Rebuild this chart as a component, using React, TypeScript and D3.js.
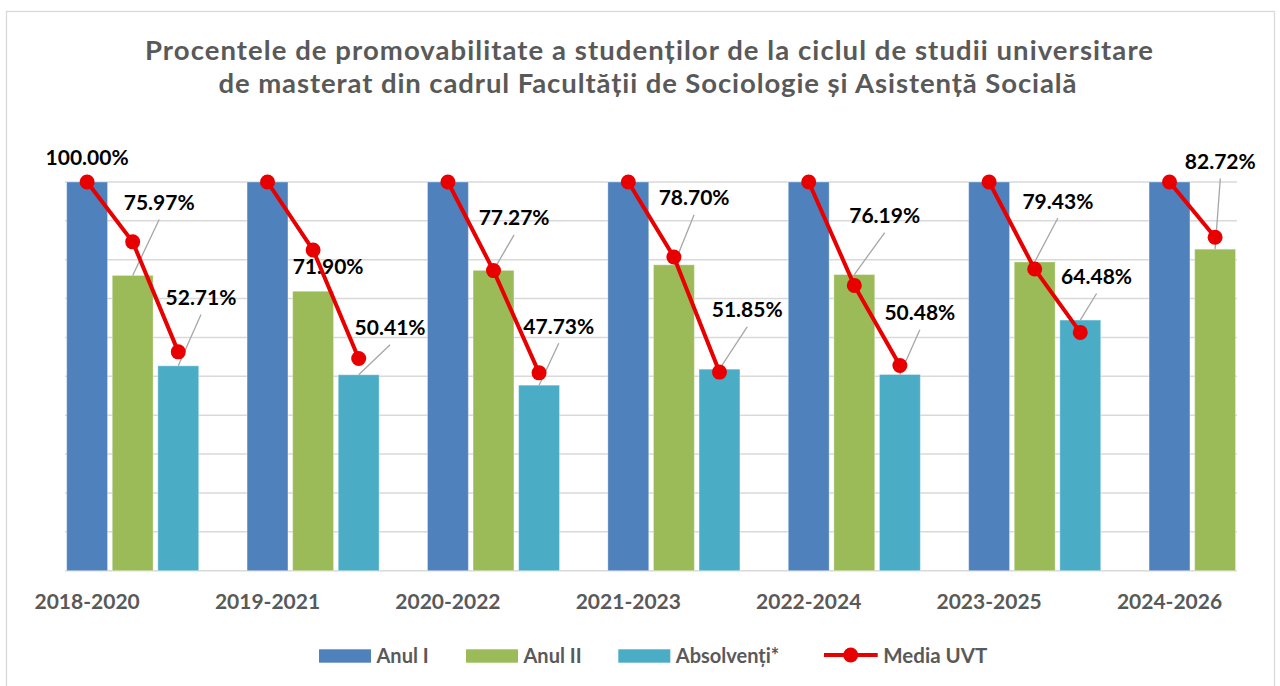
import React from 'react';
import * as d3 from 'd3';

const categories = ['2018-2020', '2019-2021', '2020-2022', '2021-2023', '2022-2024', '2023-2025', '2024-2026'];
const seriesNames = ['Anul I', 'Anul II', 'Absolvenți*'];
const anulI: (number | null)[] = [100, 100, 100, 100, 100, 100, 100];
const anulII: (number | null)[] = [75.97, 71.9, 77.27, 78.7, 76.19, 79.43, 82.72];
const absolventi: (number | null)[] = [52.71, 50.41, 47.73, 51.85, 50.48, 64.48, null];
const mediaAnulI: (number | null)[] = [100, 100, 100, 100, 100, 100, 100];
const mediaAnulII: (number | null)[] = [84.6, 82.5, 77.2, 80.7, 73.4, 77.6, 85.8];
const mediaAbsolventi: (number | null)[] = [56.3, 54.6, 50.9, 51.1, 52.8, 61.3, null];
const showLabelAnulI = [true, false, false, false, false, false, false];
const titleLines = [
  'Procentele de promovabilitate a studenților de la ciclul de studii universitare',
  'de masterat din cadrul Facultății de Sociologie și Asistență Socială',
];
const legendLine = 'Media UVT';

// layout: label centre offsets from bar top-centre
const labelOffsets: [number, number][][] = [
  [[0, -25], [0, -25], [0, -25], [0, -25], [0, -25], [0, -25], [0, -25]],
  [[26.5, -73], [15, -25], [20.6, -52.5], [20.2, -67], [30.4, -59], [23.2, -61], [5.2, -87.6]],
  [[22.7, -68.3], [31.4, -47], [19.7, -59], [27.7, -59.3], [20, -61.7], [16.3, -43.6], [0, -30]],
];
// layout: title line widths / centres
const titleLayout = [
  { cx: 649, w: 1008, y: 60 },
  { cx: 647.5, w: 858, y: 93.3 },
];

const W = 1280;
const H = 686;
const colors = ['#4f81bd', '#9bbb59', '#4bacc6'];
const red = '#e80000';
const gray = '#595959';
const FONT = 'Lato, "Open Sans", sans-serif';

export default function App() {
  const seriesVals = [anulI, anulII, absolventi];
  const mediaVals = [mediaAnulI, mediaAnulII, mediaAbsolventi];

  const plotLeft = 65;
  const plotRight = 1237;
  const y = d3.scaleLinear().domain([0, 100]).range([570.7, 182]);
  const x0 = d3.scaleBand().domain(categories).range([42.5, 1305.3]).paddingInner(0.268).paddingOuter(0.134);
  const x1 = d3.scaleBand().domain(seriesNames).range([0, x0.bandwidth()]).paddingInner(0.103);
  const bw = x1.bandwidth();
  const cx = (ci: number, si: number) => (x0(categories[ci]) as number) + (x1(seriesNames[si]) as number) + bw / 2;

  const lineGen = d3
    .line<[number, number]>()
    .x((d) => d[0])
    .y((d) => d[1]);

  const fs = 21;

  return (
    <svg width={W} height={H} style={{ position: 'absolute', left: 0, top: 0, background: '#fff' }} fontFamily={FONT}>
      <rect x={0} y={0} width={W} height={H} fill="#fff" />
      <rect x={6.5} y={11.5} width={1268} height={700} fill="none" stroke="#d9d9d9" strokeWidth={1.3} />

      {titleLines.map((t, i) => (
        <text
          key={i}
          x={titleLayout[i].cx}
          y={titleLayout[i].y}
          textAnchor="middle"
          fontSize={27.5}
          fontWeight={700}
          fill={gray}
          textLength={titleLayout[i].w}
          lengthAdjust="spacing"
        >
          {t}
        </text>
      ))}

      {y.ticks(10).map((t) => (
        <line key={t} x1={plotLeft} x2={plotRight} y1={y(t)} y2={y(t)} stroke="#d9d9d9" strokeWidth={1.5} />
      ))}

      {categories.map((c, ci) =>
        seriesVals.map((vals, si) => {
          const v = vals[ci];
          if (v == null) return null;
          return (
            <rect
              key={c + si}
              x={(x0(c) as number) + (x1(seriesNames[si]) as number)}
              y={y(v)}
              width={bw}
              height={y(0) - y(v)}
              fill={colors[si]}
              stroke="#ffffff"
              strokeOpacity={0.35}
              strokeWidth={1}
            />
          );
        })
      )}

      {categories.map((c, ci) =>
        seriesVals.map((vals, si) => {
          const v = vals[ci];
          if (v == null) return null;
          if (si === 0 && !showLabelAnulI[ci]) return null;
          const [dx, dy] = labelOffsets[si][ci];
          const bx = cx(ci, si);
          const by = y(v);
          const lx = bx + dx;
          const ly = by + dy;
          return (
            <g key={'l' + c + si}>
              {dy < -35 && (
                <line x1={lx} y1={ly + 17} x2={bx} y2={by} stroke="#a6a6a6" strokeWidth={1.3} />
              )}
              <text x={lx} y={ly + fs * 0.36} textAnchor="middle" fontSize={fs} fontWeight={700} fill="#000">
                {v.toFixed(2) + '%'}
              </text>
            </g>
          );
        })
      )}

      {categories.map((c, ci) => {
        const pts: [number, number][] = [];
        mediaVals.forEach((vals, si) => {
          const v = vals[ci];
          if (v != null) pts.push([cx(ci, si), y(v)]);
        });
        return (
          <g key={'m' + c}>
            <path d={lineGen(pts) || ''} fill="none" stroke={red} strokeWidth={4} strokeLinejoin="round" />
            {pts.map((p, i) => (
              <circle key={i} cx={p[0]} cy={p[1]} r={7.5} fill={red} />
            ))}
          </g>
        );
      })}

      {categories.map((c, ci) => (
        <text key={'c' + c} x={cx(ci, 0)} y={609} textAnchor="middle" fontSize={fs} fontWeight={700} fill={gray}>
          {c}
        </text>
      ))}

      <g>
        {[319, 466, 618.3].map((lx, i) => (
          <g key={'lg' + i}>
            <rect x={lx} y={649.3} width={52} height={13.4} fill={colors[i]} />
            <text x={lx + 57.5} y={662.7} fontSize={20} fontWeight={700} fill={gray}>
              {seriesNames[i]}
            </text>
          </g>
        ))}
        <line x1={824} x2={877.7} y1={655} y2={655} stroke={red} strokeWidth={4} />
        <circle cx={850.7} cy={655} r={7.5} fill={red} />
        <text x={883.3} y={662.7} fontSize={20.5} fontWeight={700} fill={gray}>
          {legendLine}
        </text>
      </g>
    </svg>
  );
}
